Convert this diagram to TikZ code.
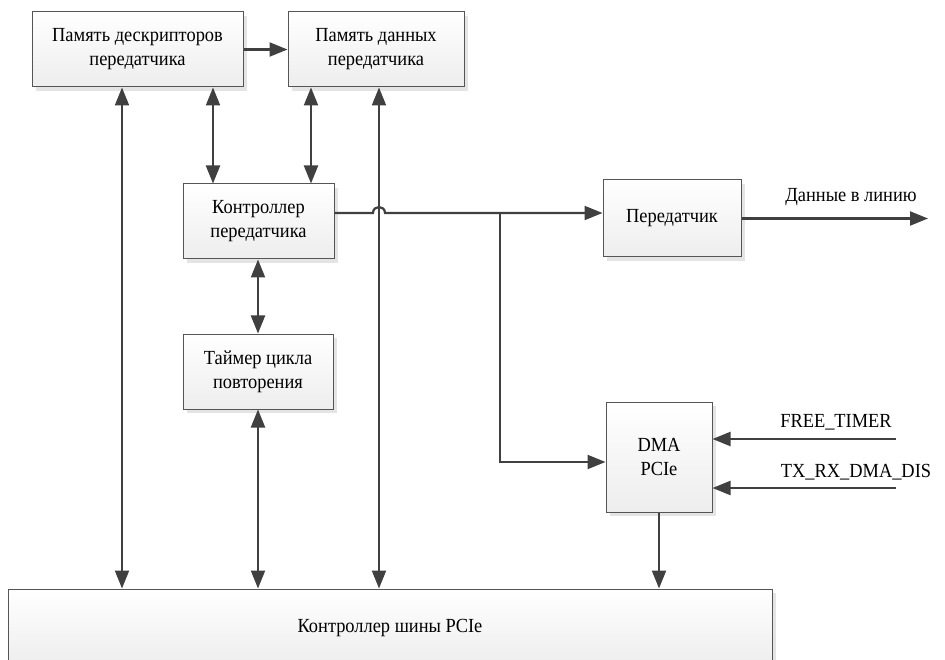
\documentclass[tikz,border=0pt]{standalone}
\usepackage{fontspec}
\setmainfont[FakeStretch=0.92]{Liberation Serif}
\usetikzlibrary{arrows.meta,shadows,calc}
\definecolor{ln}{HTML}{404040}
\definecolor{bd}{HTML}{555555}
\definecolor{sh}{HTML}{E4E4E4}
\tikzset{
  blk/.style={draw=bd, line width=1pt, top color=white, bottom color=black!7,
    drop shadow={shadow xshift=4pt, shadow yshift=-4pt, fill=sh, opacity=1},
    align=center, inner sep=0pt, font=\fontsize{20}{24}\selectfont},
  con/.style={draw=ln, line width=2.2pt},
  tip/.style={-{Triangle[length=18pt,width=14pt]}},
  dtip/.style={{Triangle[length=18pt,width=14pt]}-{Triangle[length=18pt,width=14pt]}},
  lbl/.style={font=\fontsize{20}{24}\selectfont, inner sep=0pt}
}
\begin{document}
\begin{tikzpicture}[x=1pt,y=-1pt]
\useasboundingbox (0,0) rectangle (945,660);
\begin{scope}
\clip (0,0) rectangle (945,660);
\node[blk, minimum width=211pt, minimum height=75pt] (A) at (137.5,49.5) {Память дескрипторов\\передатчика};
\node[blk, minimum width=176pt, minimum height=75pt] (B) at (376,49.5) {Память данных\\передатчика};
\node[blk, minimum width=151pt, minimum height=75pt] (C) at (258.5,221.5) {Контроллер\\передатчика};
\node[blk, minimum width=150pt, minimum height=75pt] (D) at (258,371.5) {Таймер цикла\\повторения};
\node[blk, minimum width=138pt, minimum height=77pt] (T) at (672,218.5) {Передатчик};
\node[blk, minimum width=106pt, minimum height=110pt] (M) at (659,457) {DMA\\PCIe};
\node[blk, minimum width=764pt, minimum height=78pt] (bus) at (390,628) {Контроллер шины PCIe};
\end{scope}

\coordinate (xa) at (122,0);
\coordinate (xb) at (213,0);
\coordinate (xc) at (311,0);
\coordinate (xd) at (379,0);
\coordinate (xe) at (258,0);
\coordinate (ly) at (0,213);
\coordinate (br) at (500,213);
\coordinate (brd) at (500,462);
\coordinate (out) at (928,218.5);
\coordinate (f1) at (896,439);
\coordinate (f2) at (896,488);

\draw[con,tip] (A.east) -- (B.west);
\draw[con,dtip] (A.south -| xa) -- (bus.north -| xa);
\draw[con,dtip] (A.south -| xb) -- (C.north -| xb);
\draw[con,dtip] (B.south -| xc) -- (C.north -| xc);
\draw[con,dtip] (B.south -| xd) -- (bus.north -| xd);
\draw[con,dtip] (C.south -| xe) -- (D.north -| xe);
\draw[con,dtip] (D.south -| xe) -- (bus.north -| xe);

\draw[con,tip] (C.east |- ly) -- (373,213) .. controls (373,205) and (385,205) .. (385,213) -- (T.west |- ly);
\draw[con,tip] (br) -- (brd) -- (M.west |- brd);
\draw[con,tip] (T.east |- out) -- (out);
\node[lbl] (ol) at (851,197) {Данные в линию};
\draw[con,tip] (f1) -- (M.east |- f1);
\draw[con,tip] (f2) -- (M.east |- f2);
\node[lbl] (fl1) at (836,422) {FREE\_TIMER};
\node[lbl] (fl2) at (856,472) {TX\_RX\_DMA\_DIS};
\draw[con,tip] (M.south) -- (bus.north -| M.south);
\end{tikzpicture}
\end{document}
